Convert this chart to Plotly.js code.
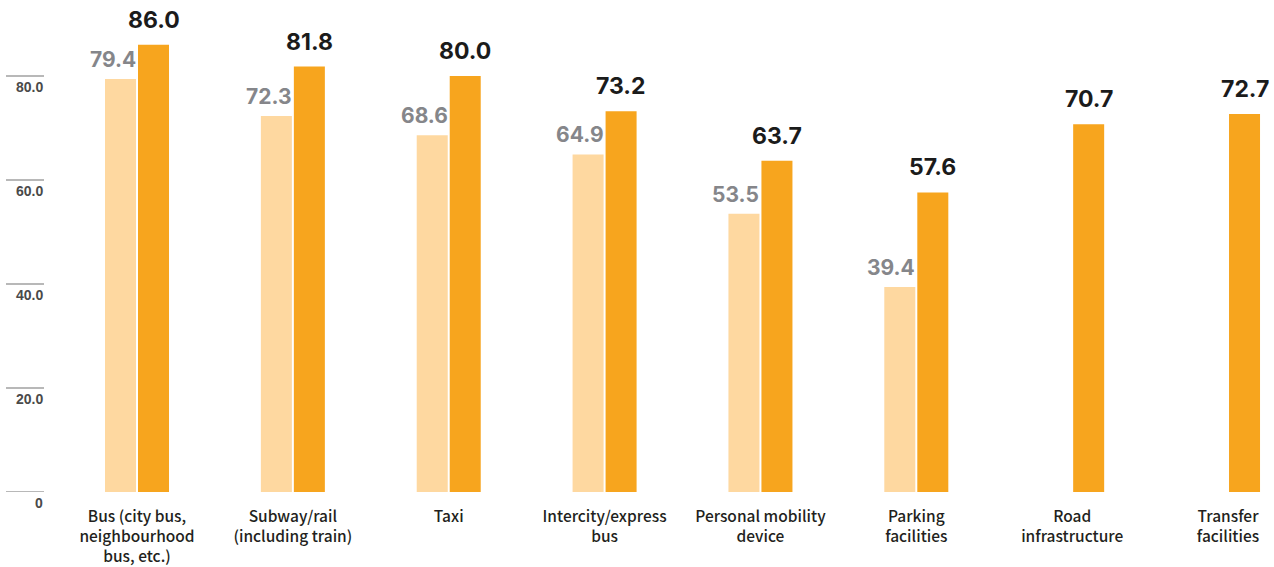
<!DOCTYPE html>
<html>
<head>
<meta charset="utf-8">
<script src="https://cdn.plot.ly/plotly-3.0.1.min.js"></script>
<style>html,body{margin:0;padding:0;background:#fff;}#chart{width:1274px;height:567px;}</style>
</head>
<body>
<div id="chart"></div>
<script>
const categories = ["Bus (city bus,<br>neighbourhood<br>bus, etc.)", "Subway/rail<br>(including train)", "Taxi", "Intercity/express<br>bus", "Personal mobility<br>device", "Parking<br>facilities", "Road<br>infrastructure", "Transfer<br>facilities"];
const previousValues = [79.4, 72.3, 68.6, 64.9, 53.5, 39.4, null, null];
const currentValues = [86.0, 81.8, 80.0, 73.2, 63.7, 57.6, 70.7, 72.7];
const yTickVals = [0, 20, 40, 60, 80];
const yTickText = ["0", "20.0", "40.0", "60.0", "80.0"];

const LIGHT = "#FED8A0";
const DARK = "#F7A51E";
const W = 0.199;

const traces = [
  {type: "bar", x: categories, y: previousValues, marker: {color: LIGHT}, width: W, offset: -0.2053, hoverinfo: "none"},
  {type: "bar", x: categories, y: currentValues, marker: {color: DARK}, width: W, offset: 0.0064, hoverinfo: "none"}
];

const annotations = [];
categories.forEach((c, i) => {
  if (previousValues[i] != null) {
    annotations.push({x: c, y: previousValues[i], xref: "x", yref: "y", text: previousValues[i].toFixed(1),
      showarrow: false, xanchor: "right", yanchor: "bottom", xshift: 1, yshift: 5,
      font: {family: "Inter", size: 21, weight: 700, color: "#85868a"}});
  }
  annotations.push({x: c, y: currentValues[i], xref: "x", yref: "y", text: currentValues[i].toFixed(1),
    showarrow: false, xanchor: "center", yanchor: "bottom", xshift: 16.5, yshift: 9,
    font: {family: "Inter", size: 23, weight: 700, color: "#1b1b1b"}});
});
const shapes = [];
yTickVals.forEach((v, i) => {
  shapes.push({type: "line", xref: "paper", yref: "y", x0: 6/1274, x1: 44/1274, y0: v, y1: v,
    line: {color: "#a0a0a0", width: 1.5}});
  annotations.push({xref: "paper", yref: "y", x: 45/1274, y: v, text: yTickText[i], showarrow: false,
    xanchor: "right", yanchor: "middle", yshift: -11,
    font: {family: "Liberation Sans", size: 14, weight: 700, color: "#4a4a4a"}});
});

const layout = {
  width: 1274, height: 567,
  margin: {l: 0, r: 0, t: 0, b: 75},
  paper_bgcolor: "#fff", plot_bgcolor: "#fff",
  showlegend: false,
  barmode: "overlay",
  xaxis: {type: "category", range: [-0.879, 7.295], showgrid: false, zeroline: false, showline: false,
    ticks: "", tickfont: {family: "Noto Sans CJK KR", size: 15.5, weight: 500, color: "#231f20"}, ticklabelstandoff: 13, fixedrange: true},
  yaxis: {range: [0, 94.6], showgrid: false, zeroline: false, showline: false, showticklabels: false, ticks: "", fixedrange: true},
  shapes: shapes,
  annotations: annotations
};
Plotly.newPlot("chart", traces, layout, {staticPlot: true, displayModeBar: false});
</script>
</body>
</html>
